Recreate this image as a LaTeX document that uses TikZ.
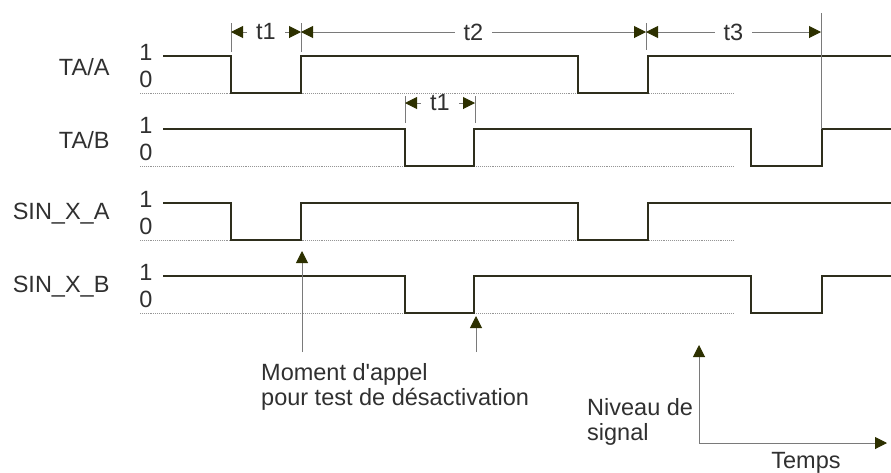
\documentclass[tikz,border=0pt]{standalone}
\usepackage{fontspec}
\setmainfont{Liberation Sans}
\usetikzlibrary{arrows.meta}

\definecolor{wave}{HTML}{2E2E1C}
\definecolor{tipcol}{HTML}{2D3000}
\definecolor{guidecol}{HTML}{7A7A7A}
\definecolor{txt}{HTML}{303030}

\begin{document}
\begin{tikzpicture}[x=1pt, y=-1pt, font=\fontsize{23.5}{25}\selectfont, text=txt,
    signal/.style={draw=wave, line width=2pt},
    baseline0/.style={draw=guidecol!80, line width=0.9pt, densely dotted},
    guide/.style={draw=guidecol, line width=1pt},
    tipA/.tip={Triangle[length=12pt, width=12pt, color=tipcol]},
    dim/.style={guide, tipA-tipA},
    pointer/.style={guide, -tipA},
    gap/.style={fill=white, inner xsep=9pt, inner ysep=0pt}]
\useasboundingbox (0,0) rectangle (891,472);

% four signals: high level / name / falling and rising edges
\foreach \hi/\lab/\fa/\ra/\fb/\rb [count=\i] in {56/{TA/A}/231/301/578/648,
    129/{TA/B}/405/474/751/822, 203/{SIN\_X\_A}/231/301/578/648,
    276/{SIN\_X\_B}/405/474/751/822}{
  \pgfmathsetmacro\lo{\hi+37}
  \draw[baseline0] (140,\lo) -- (733,\lo);
  \draw[signal] (163,\hi) -| (\fa,\lo) -| (\ra,\hi) -| (\fb,\lo) -| (\rb,\hi) -- (891,\hi);
  \node[anchor=east] (lab\i) at (113,\hi+11) {\lab};
  \node (one\i) at (146,\hi-4) {1};
  \node (zero\i) at (146,\hi+23) {0};
}

% time marks
\coordinate (ta) at (231,32);
\coordinate (tb) at (301,32);
\coordinate (tc) at (646,32);
\coordinate (td) at (821,32);
\coordinate (tbA) at (405,103);
\coordinate (tbB) at (475,103);
\draw[guide] (231,23) -- (231,52);
\draw[guide] (301,23) -- (301,52);
\draw[guide] (646,23) -- (646,50);
\draw[guide] (821,13) -- (821,129);
\draw[guide] (405,96) -- (405,123);
\draw[guide] (475,96) -- (475,123);

\draw[dim] (ta) -- node[gap] (t1) {t1} (tb);
\draw[dim] (tb) -- node[gap] (t2) {t2} (tc);
\draw[dim] (tc) -- node[gap] (t3) {t3} (td);
\draw[dim] (tbA) -- node[gap] (t1b) {t1} (tbB);

% call moments
\node[anchor=north west, align=left, inner sep=0pt] (moment) at (261,363)
  {Moment d\textquotesingle appel\\pour test de désactivation};
\coordinate (callA0) at (302,352);
\coordinate (callA) at (302,251);
\coordinate (callB0) at (476,352);
\coordinate (callB) at (476,316);
\draw[pointer] (callA0) -- (callA);
\draw[pointer] (callB0) -- (callB);

% axes
\coordinate (origin) at (699,443);
\coordinate (yend) at (699,345);
\coordinate (xend) at (887,443);
\draw[pointer] (origin) -- (yend);
\draw[pointer] (origin) -- (xend);
\node[anchor=north west, align=left, inner sep=0pt] (level) at (587,398) {Niveau de\\signal};
\node[anchor=base] (time) at (806,468) {Temps};
\end{tikzpicture}
\end{document}
